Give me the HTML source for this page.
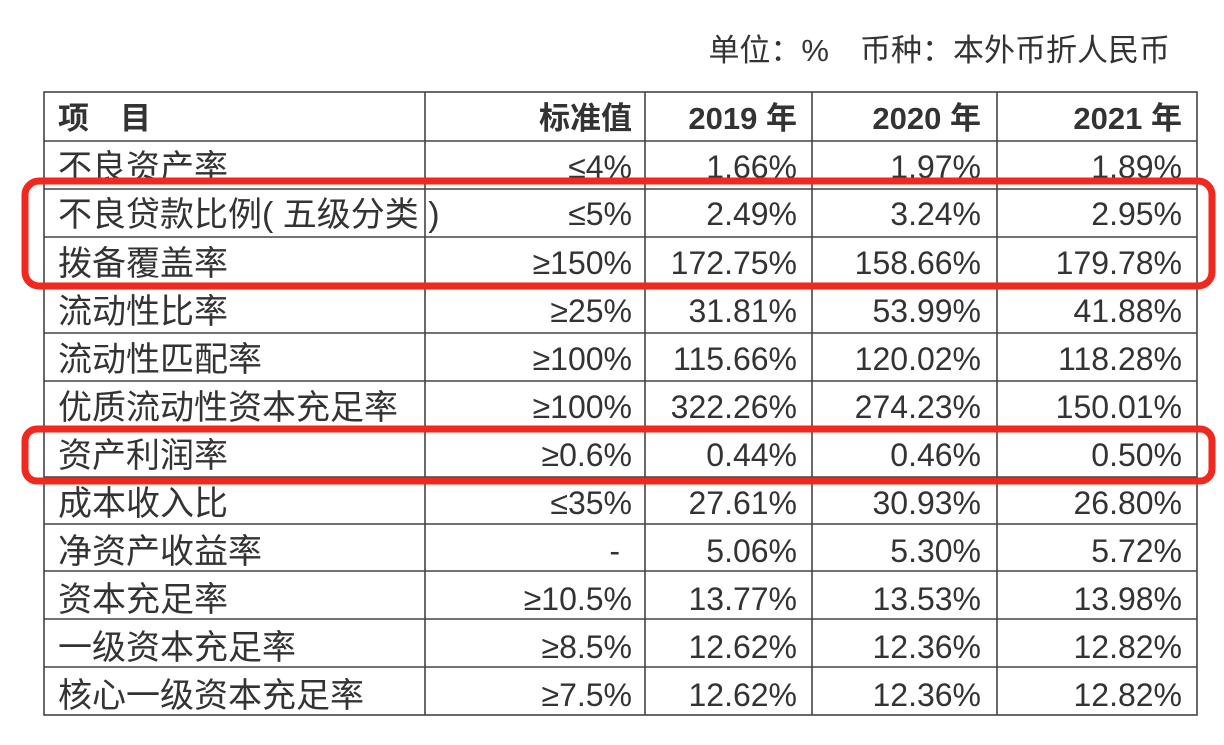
<!DOCTYPE html>
<html><head><meta charset="utf-8"><style>
html,body{margin:0;padding:0;background:#fff;}
svg text{font-family:"Liberation Sans","Noto Sans CJK SC",sans-serif;fill:#333;}
</style></head><body>
<svg width="1224" height="740" viewBox="0 0 1224 740" xmlns="http://www.w3.org/2000/svg">
<rect width="1224" height="740" fill="#fff"/>
<text x="1170" y="61" font-size="31" text-anchor="end">单位：%　币种：本外币折人民币</text>
<g stroke="#444" stroke-width="1.6" fill="none">
<rect x="44" y="92" width="1153" height="623"/>
<line x1="425" y1="92" x2="425" y2="715"/>
<line x1="645" y1="92" x2="645" y2="715"/>
<line x1="812" y1="92" x2="812" y2="715"/>
<line x1="997" y1="92" x2="997" y2="715"/>
<line x1="44" y1="141" x2="1197" y2="141"/>
<line x1="44" y1="189" x2="1197" y2="189"/>
<line x1="44" y1="237" x2="1197" y2="237"/>
<line x1="44" y1="285" x2="1197" y2="285"/>
<line x1="44" y1="333" x2="1197" y2="333"/>
<line x1="44" y1="381" x2="1197" y2="381"/>
<line x1="44" y1="429" x2="1197" y2="429"/>
<line x1="44" y1="477" x2="1197" y2="477"/>
<line x1="44" y1="524" x2="1197" y2="524"/>
<line x1="44" y1="571" x2="1197" y2="571"/>
<line x1="44" y1="619" x2="1197" y2="619"/>
<line x1="44" y1="667" x2="1197" y2="667"/>
</g>
<g font-size="31" font-weight="bold">
<text x="58" y="129">项　目</text>
<text x="632" y="129" text-anchor="end">标准值</text>
<text x="797" y="129" text-anchor="end">2019 年</text>
<text x="981" y="129" text-anchor="end">2020 年</text>
<text x="1182" y="129" text-anchor="end">2021 年</text>
</g>
<g font-size="34">
<text x="58" y="179">不良资产率</text>
<text x="58" y="226">不良贷款比例( 五级分类 )</text>
<text x="58" y="275">拨备覆盖率</text>
<text x="58" y="323">流动性比率</text>
<text x="58" y="371">流动性匹配率</text>
<text x="58" y="419">优质流动性资本充足率</text>
<text x="58" y="467">资产利润率</text>
<text x="58" y="515">成本收入比</text>
<text x="58" y="563">净资产收益率</text>
<text x="58" y="611">资本充足率</text>
<text x="58" y="659">一级资本充足率</text>
<text x="58" y="707">核心一级资本充足率</text>
</g>
<g font-size="32" text-anchor="end">
<text x="632" y="178">≤4%</text><text x="797" y="178">1.66%</text><text x="981" y="178">1.97%</text><text x="1182" y="178">1.89%</text>
<text x="632" y="225">≤5%</text><text x="797" y="225">2.49%</text><text x="981" y="225">3.24%</text><text x="1182" y="225">2.95%</text>
<text x="632" y="274">≥150%</text><text x="797" y="274">172.75%</text><text x="981" y="274">158.66%</text><text x="1182" y="274">179.78%</text>
<text x="632" y="322">≥25%</text><text x="797" y="322">31.81%</text><text x="981" y="322">53.99%</text><text x="1182" y="322">41.88%</text>
<text x="632" y="370">≥100%</text><text x="797" y="370">115.66%</text><text x="981" y="370">120.02%</text><text x="1182" y="370">118.28%</text>
<text x="632" y="418">≥100%</text><text x="797" y="418">322.26%</text><text x="981" y="418">274.23%</text><text x="1182" y="418">150.01%</text>
<text x="632" y="466">≥0.6%</text><text x="797" y="466">0.44%</text><text x="981" y="466">0.46%</text><text x="1182" y="466">0.50%</text>
<text x="632" y="514">≤35%</text><text x="797" y="514">27.61%</text><text x="981" y="514">30.93%</text><text x="1182" y="514">26.80%</text>
<text x="620" y="562">-</text><text x="797" y="562">5.06%</text><text x="981" y="562">5.30%</text><text x="1182" y="562">5.72%</text>
<text x="632" y="610">≥10.5%</text><text x="797" y="610">13.77%</text><text x="981" y="610">13.53%</text><text x="1182" y="610">13.98%</text>
<text x="632" y="658">≥8.5%</text><text x="797" y="658">12.62%</text><text x="981" y="658">12.36%</text><text x="1182" y="658">12.82%</text>
<text x="632" y="706">≥7.5%</text><text x="797" y="706">12.62%</text><text x="981" y="706">12.36%</text><text x="1182" y="706">12.82%</text>
</g>
<g stroke="#f0281e" stroke-width="7" fill="none">
<rect x="25" y="181" width="1187" height="105" rx="14"/>
<rect x="25" y="429" width="1187" height="52" rx="12"/>
</g>
</svg>
</body></html>
